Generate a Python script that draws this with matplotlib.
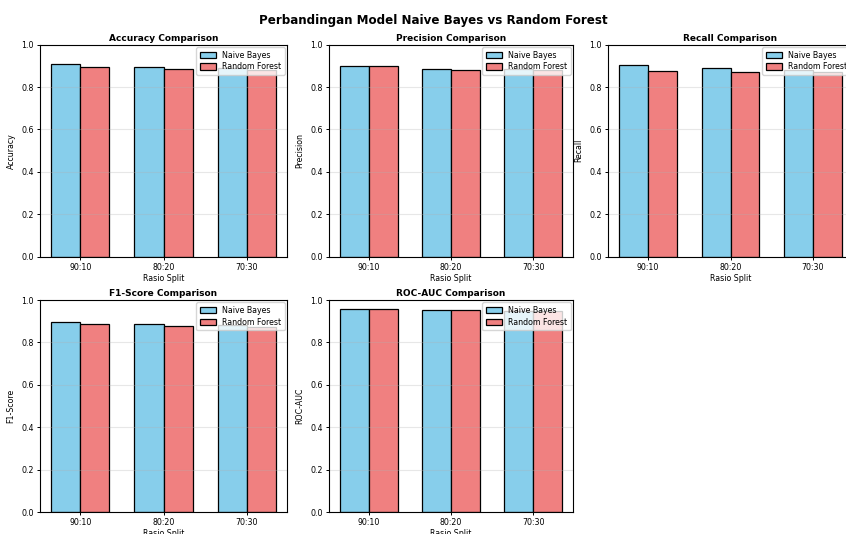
import numpy as np
import matplotlib
matplotlib.use('Agg')
import matplotlib.pyplot as plt

splits = ['90:10', '80:20', '70:30']
metrics = ['Accuracy', 'Precision', 'Recall', 'F1-Score', 'ROC-AUC']

# values (70:30 tops are hidden behind the legend, estimated)
nb_accuracy = [0.907, 0.893, 0.888]
rf_accuracy = [0.893, 0.885, 0.880]
nb_precision = [0.898, 0.885, 0.886]
rf_precision = [0.898, 0.882, 0.880]
nb_recall = [0.904, 0.888, 0.882]
rf_recall = [0.877, 0.873, 0.870]
nb_f1 = [0.898, 0.888, 0.884]
rf_f1 = [0.885, 0.877, 0.874]
nb_roc = [0.956, 0.954, 0.950]
rf_roc = [0.958, 0.953, 0.948]

nb_vals = [nb_accuracy, nb_precision, nb_recall, nb_f1, nb_roc]
rf_vals = [rf_accuracy, rf_precision, rf_recall, rf_f1, rf_roc]

W, H = 846, 534
fig = plt.figure(figsize=(W / 100, H / 100), dpi=100)

# axes boxes in pixels: left, top, width, height (third column runs past the edge)
boxes = [(40, 44.7, 247, 212), (329, 44.7, 244, 212), (608, 44.7, 245, 212),
         (40, 300, 247, 212), (329, 300, 244, 212)]

x = np.arange(len(splits))
width = 0.35
fs = 5.7

for i, metric in enumerate(metrics):
    l, t, w, h = boxes[i]
    ax = fig.add_axes([l / W, 1 - (t + h) / H, w / W, h / H])
    ax.bar(x - width / 2, nb_vals[i], width, label='Naive Bayes', color='skyblue',
           edgecolor='black', linewidth=0.9)
    ax.bar(x + width / 2, rf_vals[i], width, label='Random Forest', color='lightcoral',
           edgecolor='black', linewidth=0.9)
    ax.set_title(f'{metric} Comparison', fontsize=6.5, fontweight='bold', pad=3)
    ax.set_xlabel('Rasio Split', fontsize=fs, labelpad=1.5)
    ax.set_ylabel(metric, fontsize=fs, labelpad=4)
    ax.set_xticks(x)
    ax.set_xticklabels(splits)
    ax.set_ylim(0, 1.0)
    ax.tick_params(labelsize=fs, length=2.5, pad=2, width=0.7)
    ax.legend(fontsize=fs, loc='upper right', handlelength=2.1, handleheight=0.9,
              handletextpad=0.7, borderpad=0.45, labelspacing=0.35, framealpha=0.8,
              borderaxespad=0.3)
    ax.grid(True, axis='y', alpha=0.3)
    for s in ax.spines.values():
        s.set_linewidth(0.8)

fig.suptitle('Perbandingan Model Naive Bayes vs Random Forest', fontsize=8.6,
             fontweight='bold', x=0.512, y=0.961, va='center')

fig.savefig('out.png', dpi=100)
